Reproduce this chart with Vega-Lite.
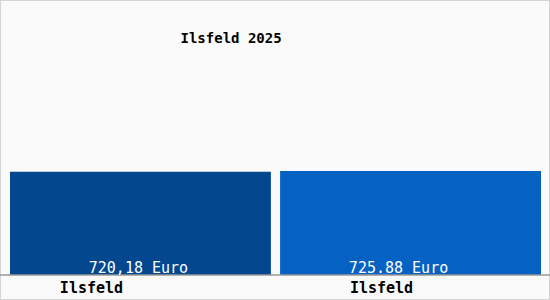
{
  "$schema": "https://vega.github.io/schema/vega-lite/v6.json",
  "width": 550,
  "height": 300,
  "autosize": {"type": "none"},
  "padding": 0,
  "background": "#fafafa",
  "config": {"view": {"stroke": "#d4d4d4", "strokeWidth": 2}},
  "title": {"text": "Ilsfeld 2025", "anchor": "start", "dx": 181, "dy": 50, "font": "DejaVu Sans Mono", "fontSize": 14, "fontWeight": "bold", "color": "#000000"},
  "data": {"values": [
    {"key": "a", "name": "Ilsfeld", "value": 720.18, "label": "720,18 Euro"},
    {"key": "b", "name": "Ilsfeld", "value": 725.88, "label": "725.88 Euro"}
  ]},
  "encoding": {
    "x": {"field": "key", "type": "nominal", "axis": null, "scale": {"range": [10, 541], "paddingInner": 0.034, "paddingOuter": 0}},
    "y": {"type": "quantitative", "axis": null, "scale": {"domain": [0, 1920], "range": [275, 0]}}
  },
  "layer": [
    {
      "mark": {"type": "bar"},
      "encoding": {
        "y": {"field": "value", "type": "quantitative"},
        "color": {"field": "key", "type": "nominal", "legend": null, "scale": {"range": ["#03478f", "#0561c2"]}}
      }
    },
    {
      "mark": {"type": "rule", "color": "#999999", "strokeWidth": 1},
      "encoding": {"x": null, "y": {"datum": 0}}
    },
    {
      "mark": {"type": "text", "font": "DejaVu Sans Mono", "fontSize": 15, "color": "#ffffff", "baseline": "alphabetic", "dy": -2, "dx": {"expr": "datum.key == 'a' ? -2 : -12"}},
      "encoding": {"y": {"datum": 0}, "text": {"field": "label"}}
    },
    {
      "mark": {"type": "text", "font": "DejaVu Sans Mono", "fontSize": 15, "fontWeight": "bold", "color": "#000000", "baseline": "middle", "dy": 13, "dx": {"expr": "datum.key == 'a' ? -49 : -29"}},
      "encoding": {"y": {"datum": 0}, "text": {"field": "name"}}
    }
  ]
}
